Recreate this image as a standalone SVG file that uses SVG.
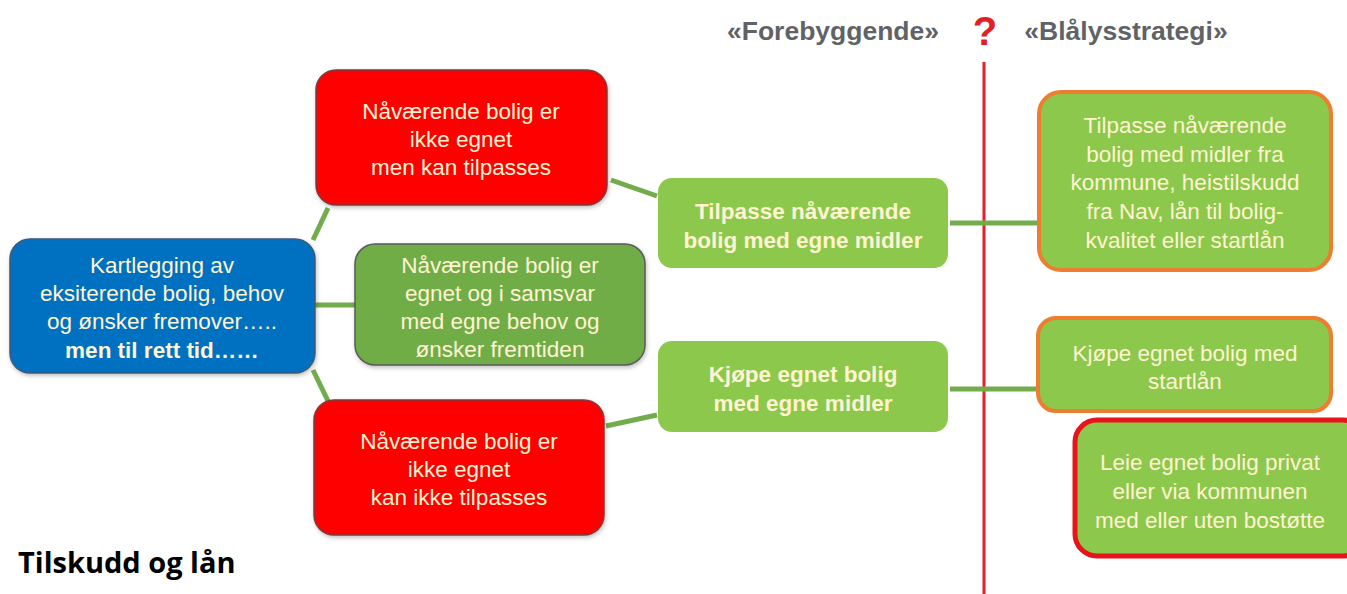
<svg xmlns="http://www.w3.org/2000/svg" width="1347" height="594" viewBox="0 0 1347 594">
<style>
.t{font-family:"Liberation Sans",Arial,sans-serif;font-size:22.5px;fill:#FFF4D2;text-anchor:middle}
.b{font-weight:bold}
.hdr{font-family:"Liberation Sans",Arial,sans-serif;font-size:26.5px;font-weight:bold;fill:#5F6368}
.red{fill:#FF0000;stroke:#7F3B3B;stroke-width:1.5}
.lg{fill:#8CC84B}
.conn{stroke:#72AC4D;stroke-width:5;fill:none}
</style>
<defs>
<filter id="sh" x="-10%" y="-10%" width="130%" height="130%">
<feDropShadow dx="1" dy="2" stdDeviation="2" flood-color="#000" flood-opacity="0.25"/>
</filter>
</defs>
<rect width="1347" height="594" fill="#FFFFFF"/>
<g id="headers">
<text class="hdr" x="833" y="40" text-anchor="middle">«Forebyggende»</text>
<text class="hdr" x="1126" y="40" text-anchor="middle">«Blålysstrategi»</text>
<text x="985" y="45" text-anchor="middle" font-family="Liberation Sans,Arial,sans-serif" font-weight="bold" font-size="40" fill="#E31E24">?</text>
</g>
<line x1="984" y1="62" x2="984" y2="594" stroke="#E31E24" stroke-width="3"/>
<g id="connectors">
<line class="conn" x1="313" y1="240" x2="328" y2="208"/>
<line class="conn" x1="315" y1="305" x2="356" y2="305"/>
<line class="conn" x1="313" y1="370" x2="328" y2="401"/>
<line class="conn" x1="611" y1="180" x2="657" y2="196"/>
<line class="conn" x1="606" y1="426" x2="657" y2="415"/>
<line class="conn" x1="950" y1="223" x2="1038" y2="223"/>
<line class="conn" x1="950" y1="389" x2="1037" y2="389"/>
</g>
<g id="n-kartlegging">
<rect x="10" y="239" width="305" height="134" rx="20" fill="#0571C1" stroke="#3D5A78" stroke-width="1.5" filter="url(#sh)"/>
<text class="t" x="162" y="273">Kartlegging av</text>
<text class="t" x="162" y="301">eksiterende bolig, behov</text>
<text class="t" x="162" y="329">og ønsker fremover…..</text>
<text class="t b" x="162" y="358">men til rett tid……</text>
</g>
<g id="n-red-top">
<rect class="red" x="316" y="70" width="291" height="135" rx="20" filter="url(#sh)"/>
<text class="t" x="461" y="119">Nåværende bolig er</text>
<text class="t" x="461" y="147">ikke egnet</text>
<text class="t" x="461" y="175">men kan tilpasses</text>
</g>
<g id="n-egnet">
<rect x="355" y="244" width="290" height="121" rx="20" fill="#70AD47" stroke="#5A5A5A" stroke-width="1.5" filter="url(#sh)"/>
<text class="t" x="500" y="273">Nåværende bolig er</text>
<text class="t" x="500" y="301">egnet og i samsvar</text>
<text class="t" x="500" y="329">med egne behov og</text>
<text class="t" x="500" y="357">ønsker fremtiden</text>
</g>
<g id="n-red-bottom">
<rect class="red" x="314" y="400" width="290" height="135" rx="20" filter="url(#sh)"/>
<text class="t" x="459" y="449">Nåværende bolig er</text>
<text class="t" x="459" y="477">ikke egnet</text>
<text class="t" x="459" y="505">kan ikke tilpasses</text>
</g>
<g id="n-tilpasse-egne">
<rect class="lg" x="658" y="178" width="290" height="90" rx="14"/>
<text class="t b" x="803" y="219">Tilpasse nåværende</text>
<text class="t b" x="803" y="248">bolig med egne midler</text>
</g>
<g id="n-kjope-egne">
<rect class="lg" x="658" y="341" width="290" height="91" rx="14"/>
<text class="t b" x="803" y="382">Kjøpe egnet bolig</text>
<text class="t b" x="803" y="411">med egne midler</text>
</g>
<g id="n-tilpasse-kommune">
<rect class="lg" x="1039" y="92" width="292" height="178" rx="22" stroke="#EE7D30" stroke-width="4"/>
<text class="t" x="1185" y="133">Tilpasse nåværende</text>
<text class="t" x="1185" y="162">bolig med midler fra</text>
<text class="t" x="1185" y="190">kommune, heistilskudd</text>
<text class="t" x="1185" y="219">fra Nav, lån til bolig-</text>
<text class="t" x="1185" y="248">kvalitet eller startlån</text>
</g>
<g id="n-kjope-startlan">
<rect class="lg" x="1038" y="318" width="293" height="93" rx="18" stroke="#EE7D30" stroke-width="4"/>
<text class="t" x="1185" y="361">Kjøpe egnet bolig med</text>
<text class="t" x="1185" y="389">startlån</text>
</g>
<g id="n-leie">
<rect class="lg" x="1075" y="420" width="290" height="136" rx="22" stroke="#E8141B" stroke-width="5"/>
<text class="t" x="1210" y="470">Leie egnet bolig privat</text>
<text class="t" x="1210" y="499">eller via kommunen</text>
<text class="t" x="1210" y="528">med eller uten bostøtte</text>
</g>
<text x="18" y="573" font-family="'Open Sans','Liberation Sans',sans-serif" font-weight="bold" font-size="29" fill="#000">Tilskudd og lån</text>
</svg>
